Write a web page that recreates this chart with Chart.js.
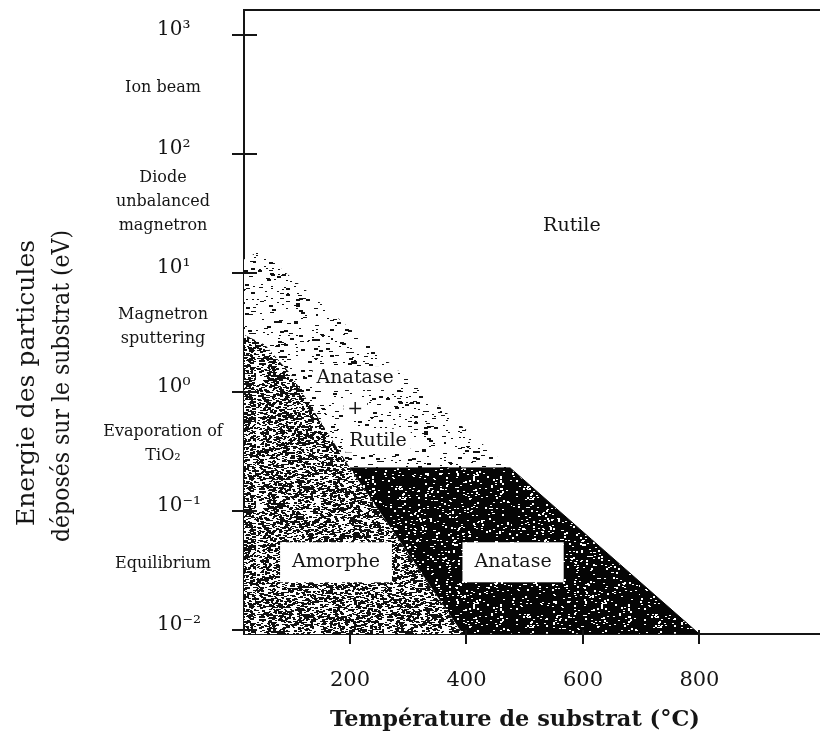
<!DOCTYPE html>
<html>
<head>
<meta charset="utf-8">
<script src="https://cdn.jsdelivr.net/npm/chart.js@4.4.0/dist/chart.umd.min.js"></script>
<style>
  html, body { margin: 0; padding: 0; background: #fff; overflow: hidden; }
  #wrap { width: 820px; height: 737px; }
  canvas { display: block; }
</style>
</head>
<body>
<div id="wrap"><canvas id="diagram" width="820" height="737"></canvas></div>
<script>
// axes: substrate temperature (°C) and particle energy (eV)
const tempTicks = [200, 400, 600, 800];
const energyTicks = [0.01, 0.1, 1, 10, 100, 1000];
const energyTickLabels = ['10⁻²', '10⁻¹', '10⁰', '10¹', '10²', '10³'];

// deposition techniques written beside the energy axis
const techniques = [['Ion beam'], ['Diode', 'unbalanced', 'magnetron'], ['Magnetron', 'sputtering'], ['Evaporation of', 'TiO₂'], ['Equilibrium']];
const techniqueEnergy = [360, 40, 3.5, 0.37, 0.036];

// phase fields, corners as (temperature, energy)
const mixedT = [18, 46, 475, 18];
const mixedE = [13, 15.5, 0.23, 0.23];
const amorphT = [18, 20, 54, 97, 200, 394, 18];
const amorphE = [3.0, 3.0, 2.5, 1.44, 0.23, 0.0092, 0.0092];
const anataseT = [200, 475, 800, 394];
const anataseE = [0.23, 0.23, 0.0092, 0.0092];

// phase names and where they sit
const phaseNames = ['Rutile', 'Anatase', '+', 'Rutile', 'Amorphe', 'Anatase'];
const phaseT = [581, 209, 209, 248, 176, 480];
const phaseE = [25, 1.31, 0.72, 0.39, 0.037, 0.037];
const phaseBoxed = [false, false, false, false, true, true];

const serif = 'DejaVu Serif';
const ink = '#151515';

// speckled fill like the printed figure
function stipple(dot, paper, share, seed, long) {
  const n = 128;
  const tile = document.createElement('canvas');
  tile.width = n; tile.height = n;
  const g = tile.getContext('2d');
  g.fillStyle = paper;
  g.fillRect(0, 0, n, n);
  g.fillStyle = dot;
  for (let y = 0; y < n; y++) {
    for (let x = 0; x < n; x++) {
      const h = Math.sin(x * 12.9898 + y * 78.233 + seed) * 43758.5453;
      const f = h - Math.floor(h);
      if (f < share) g.fillRect(x, y, f < share / 2 ? long : 2, f < share / 4 ? 2 : 1);
    }
  }
  return g.createPattern(tile, 'repeat');
}

const toPoints = (T, E) => T.map((t, i) => ({ x: t, y: E[i] }));

const decor = {
  id: 'decor',
  afterDraw(chart) {
    const { ctx, chartArea: a, scales: { x, y } } = chart;
    ctx.save();
    ctx.strokeStyle = ink;
    ctx.lineWidth = 2;
    // top frame line
    ctx.beginPath();
    ctx.moveTo(a.left - 1, a.top);
    ctx.lineTo(a.right, a.top);
    ctx.stroke();
    // tick marks crossing the axes
    tempTicks.forEach(v => {
      const px = Math.round(x.getPixelForValue(v));
      ctx.beginPath();
      ctx.moveTo(px, a.bottom - 4);
      ctx.lineTo(px, a.bottom + 10);
      ctx.stroke();
    });
    energyTicks.forEach(v => {
      const py = Math.round(y.getPixelForValue(v));
      ctx.beginPath();
      ctx.moveTo(a.left - 12, py);
      ctx.lineTo(a.left + 13, py);
      ctx.stroke();
    });

    // techniques
    ctx.fillStyle = ink;
    ctx.textAlign = 'center';
    ctx.textBaseline = 'middle';
    ctx.font = '16px "' + serif + '"';
    techniques.forEach((lines, i) => {
      const cy = y.getPixelForValue(techniqueEnergy[i]);
      lines.forEach((txt, j) => {
        ctx.fillText(txt, a.left - 81, cy + (j - (lines.length - 1) / 2) * 24);
      });
    });

    // phase names
    ctx.font = '19px "' + serif + '"';
    phaseNames.forEach((name, i) => {
      const px = x.getPixelForValue(phaseT[i]);
      const py = y.getPixelForValue(phaseE[i]);
      const tw = ctx.measureText(name).width;
      ctx.fillStyle = '#fff';
      if (phaseBoxed[i]) {
        ctx.fillRect(px - tw / 2 - 12, py - 20, tw + 24, 40);
      } else {
        ctx.fillRect(px - tw / 2 - 4, py - 12, tw + 8, 24);
      }
      ctx.fillStyle = ink;
      ctx.fillText(name, px, py);
    });

    // axis titles
    ctx.font = 'bold 22.5px "' + serif + '"';
    ctx.fillText('Température de substrat (°C)', 515, 720, 370);
    ctx.font = '25px "' + serif + '"';
    ctx.translate(0, 383);
    ctx.rotate(-Math.PI / 2);
    ctx.fillText('Energie des particules', 0, 27, 288);
    ctx.fillText('déposés sur le substrat (eV)', -3, 62, 312);
    ctx.restore();
  }
};

new Chart(document.getElementById('diagram'), {
  type: 'scatter',
  data: {
    datasets: [
      {
        label: 'Anatase',
        data: toPoints(anataseT, anataseE),
        backgroundColor: stipple('#ffffff', '#050505', 0.04, 3, 2),
        borderColor: '#050505',
        borderWidth: 1,
        fill: 'shape',
        showLine: true,
        pointRadius: 0,
        order: 1
      },
      {
        label: 'Amorphe',
        data: toPoints(amorphT, amorphE),
        backgroundColor: stipple('#111111', '#ffffff', 0.22, 7, 3),
        borderWidth: 0,
        fill: 'shape',
        showLine: true,
        pointRadius: 0,
        order: 2
      },
      {
        label: 'Anatase + Rutile',
        data: toPoints(mixedT, mixedE),
        backgroundColor: stipple('#111111', '#ffffff', 0.025, 11, 4),
        borderWidth: 0,
        fill: 'shape',
        showLine: true,
        pointRadius: 0,
        order: 3
      }
    ]
  },
  options: {
    responsive: false,
    animation: false,
    devicePixelRatio: 1,
    layout: { padding: { left: 157, top: 10, right: 0, bottom: 0 } },
    plugins: { legend: { display: false }, tooltip: { enabled: false } },
    scales: {
      x: {
        type: 'linear',
        min: 18,
        max: 1007,
        grid: { display: false, drawTicks: false },
        border: { display: true, color: ink, width: 2 },
        afterBuildTicks: s => { s.ticks = tempTicks.map(v => ({ value: v })); },
        afterFit: s => { s.height = 103; },
        ticks: {
          autoSkip: false,
          maxRotation: 0,
          padding: 34,
          color: ink,
          font: { family: serif, size: 21 },
          callback: v => String(v)
        }
      },
      y: {
        type: 'logarithmic',
        min: 0.00923,
        max: 1630,
        grid: { display: false, drawTicks: false },
        border: { display: true, color: ink, width: 2 },
        afterBuildTicks: s => { s.ticks = energyTicks.map(v => ({ value: v })); },
        afterFit: s => { s.width = 87; },
        ticks: {
          crossAlign: 'far',
          padding: 0,
          labelOffset: -5,
          color: ink,
          font: { family: serif, size: 20, lineHeight: 1 },
          callback: (v, i) => energyTickLabels[i]
        }
      }
    }
  },
  plugins: [decor]
});
</script>
</body>
</html>
